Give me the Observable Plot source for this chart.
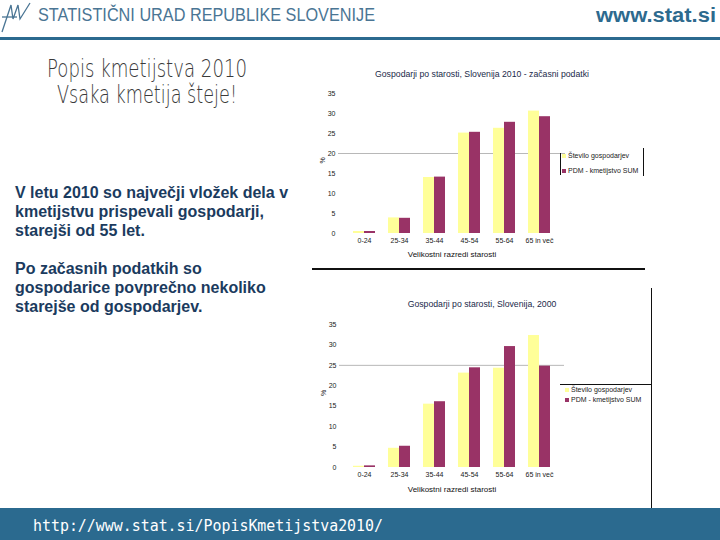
<!DOCTYPE html>
<html><head><meta charset="utf-8">
<script src="https://cdn.jsdelivr.net/npm/d3@7"></script>
<script src="https://cdn.jsdelivr.net/npm/@observablehq/plot@0.6"></script>
<style>
body{margin:0;width:720px;height:540px;position:relative;overflow:hidden;background:#fff;font-family:"Liberation Sans",Arial,sans-serif}
.abs{position:absolute}
.para{position:absolute;left:15px;font-weight:bold;font-size:16px;line-height:19px;color:#1b3b5e;white-space:nowrap}
.leg{position:absolute;font-size:7px;color:#222;white-space:nowrap;line-height:8px}
.sw{display:inline-block;width:4px;height:4px;margin-right:2px;vertical-align:middle}
</style></head><body>

<svg class="abs" style="left:0;top:0" width="720" height="44">
  <g stroke="#4a7594" stroke-width="1.3" fill="none">
    <polyline points="2,32 11,5 13,19 18,5 20,19 30,3"/>
    <line x1="2" y1="17" x2="17" y2="17"/>
  </g>
  <text x="38" y="21" font-family="Liberation Sans, Arial" font-size="18" fill="#4a7594" textLength="337" lengthAdjust="spacingAndGlyphs">STATISTIČNI URAD REPUBLIKE SLOVENIJE</text>
  <text x="596" y="22" font-family="Liberation Sans, Arial" font-weight="bold" font-size="20" fill="#2d6a8e" textLength="120" lengthAdjust="spacingAndGlyphs">www.stat.si</text>
  <rect x="0" y="37" width="720" height="3" fill="#2b6a8f"/>
</svg>

<svg class="abs" style="left:0;top:42px" width="720" height="80">
  <text x="47" y="35" font-family="DejaVu Sans" font-weight="200" font-size="24" fill="#3a3a3a" textLength="200" lengthAdjust="spacingAndGlyphs">Popis kmetijstva 2010</text>
  <text x="57" y="61" font-family="DejaVu Sans" font-weight="200" font-size="24" fill="#3a3a3a" textLength="180" lengthAdjust="spacingAndGlyphs">Vsaka kmetija šteje!</text>
</svg>

<div class="para" style="top:183px">V letu 2010 so največji vložek dela v<br>kmetijstvu prispevali gospodarji,<br>starejši od 55 let.</div>
<div class="para" style="top:259px">Po začasnih podatkih so<br>gospodarice povprečno nekoliko<br>starejše od gospodarjev.</div>

<div id="c1" class="abs" style="left:312px;top:60px"></div>
<div id="c2" class="abs" style="left:312px;top:290px"></div>

<div class="abs" style="left:312px;top:268px;width:333px;height:1.5px;background:#111"></div>
<div class="abs" style="left:651px;top:288px;width:1px;height:220px;background:#111"></div>
<div class="abs" style="left:560px;top:153px;width:1px;height:22px;background:#111"></div>
<div class="abs" style="left:643px;top:148px;width:1px;height:28px;background:#111"></div>
<div class="abs" style="left:560px;top:384px;width:91px;height:1px;background:#111"></div>

<div id="leg1" class="leg" style="left:562px;top:152px"></div>
<div id="leg2" class="leg" style="left:565px;top:386px"></div>

<div class="abs" style="left:0;top:508px;width:720px;height:32px;background:#2b6a8f"></div>
<svg class="abs" style="left:0;top:508px" width="720" height="32">
  <text x="33" y="23" font-family="DejaVu Sans Mono, Liberation Mono, monospace" font-size="15" fill="#fff" textLength="350" lengthAdjust="spacingAndGlyphs">http://www.stat.si/PopisKmetijstva2010/</text>
</svg>

<script>
const ages = ["0-24", "25-34", "35-44", "45-54", "55-64", "65 in več"];
const series = ["Število gospodarjev", "PDM - kmetijstvo SUM"];
const count2010 = [0.5, 3.9, 14.0, 25.1, 26.3, 30.6];
const pdm2010 = [0.5, 3.8, 14.1, 25.3, 27.8, 29.2];
const count2000 = [0.3, 4.7, 15.5, 23.1, 24.3, 32.3];
const pdm2000 = [0.4, 5.2, 16.1, 24.4, 29.6, 24.8];
const yTicks = [0, 5, 10, 15, 20, 25, 30, 35];
const colors = ["#ffff99", "#993366"];
const title2010 = "Gospodarji po starosti, Slovenija 2010 - začasni podatki";
const title2000 = "Gospodarji po starosti, Slovenija, 2000";
const xTitle = "Velikostni razredi starosti";

function makeChart({title, counts, pdm, grid, height, mt, mb, ml, mr, titleDy, xTitleDy}) {
  const rows = ages.flatMap((a, i) => [
    {age: a, series: series[0], value: counts[i]},
    {age: a, series: series[1], value: pdm[i]}
  ]);
  return Plot.plot({
    width: 340, height,
    marginTop: mt, marginBottom: mb, marginLeft: ml, marginRight: mr,
    style: {fontFamily: "Liberation Sans, Arial, sans-serif", fontSize: "7px", color: "#222", background: "transparent", overflow: "visible"},
    x: {domain: ages, padding: 0.37, tickSize: 0, tickPadding: 5, label: null},
    y: {domain: [0, 35], ticks: yTicks, tickSize: 0, tickPadding: 3, label: null},
    color: {domain: series, range: colors},
    marks: [
      Plot.ruleY([grid], {stroke: "#b8b8b8", strokeWidth: 1}),
      Plot.barY(rows.filter(d => d.series === series[0]), {x: "age", y: "value", fill: "series", insetRight: 11}),
      Plot.barY(rows.filter(d => d.series === series[1]), {x: "age", y: "value", fill: "series", insetLeft: 11}),
      Plot.text([title], {frameAnchor: "top", dx: 30, dy: titleDy, fontSize: 8.7, fill: "#1a2a4a"}),
      Plot.text([xTitle], {frameAnchor: "bottom", dy: xTitleDy, fontSize: 8, fill: "#111"}),
      Plot.text(["%"], {frameAnchor: "left", dx: -16, rotate: -90, fontSize: 7, fill: "#222"})
    ]
  });
}

document.getElementById("c1").append(makeChart({
  title: title2010, counts: count2010, pdm: pdm2010, grid: 20,
  height: 210, mt: 33, mb: 37, ml: 26, mr: 87, titleDy: -23, xTitleDy: 23
}));
document.getElementById("c2").append(makeChart({
  title: title2000, counts: count2000, pdm: pdm2000, grid: 25,
  height: 215, mt: 34, mb: 38, ml: 27, mr: 88, titleDy: -24, xTitleDy: 24
}));

function legend(id, gap) {
  const el = document.getElementById(id);
  series.forEach((s, i) => {
    const row = document.createElement("div");
    row.style.marginTop = i ? gap + "px" : "0";
    const sw = document.createElement("span");
    sw.className = "sw";
    sw.style.background = colors[i];
    row.append(sw, document.createTextNode(s));
    el.append(row);
  });
}
legend("leg1", 7);
legend("leg2", 2);
</script>
</body></html>
